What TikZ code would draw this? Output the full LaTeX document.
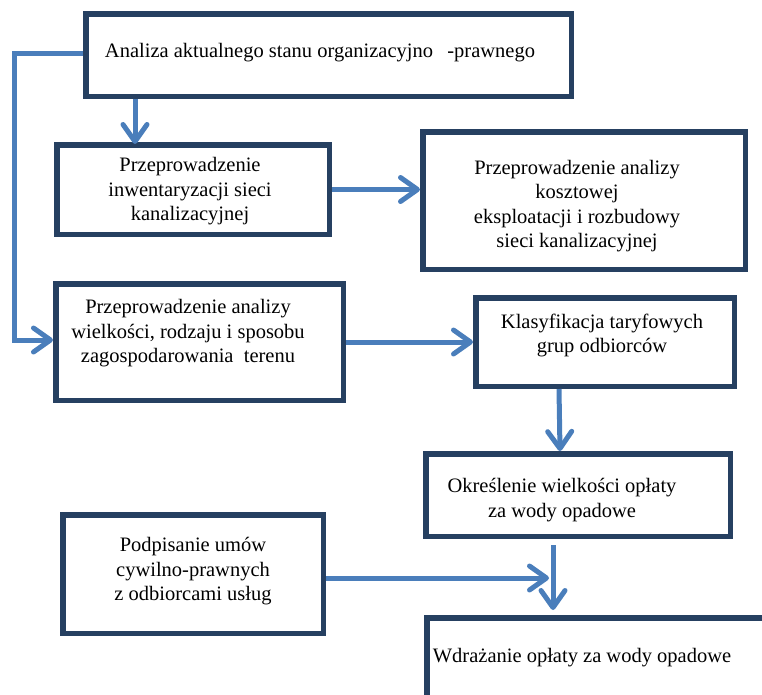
\documentclass[tikz,border=0pt]{standalone}
\usepackage{fontspec}
\setmainfont{Liberation Serif}
\usetikzlibrary{arrows.meta,calc}
\definecolor{boxc}{RGB}{38,64,97}
\definecolor{arrc}{RGB}{74,126,187}
\begin{document}
\begin{tikzpicture}[x=1pt,y=-1pt,
  box/.style={draw=boxc, line width=5.5pt, fill=white, inner sep=0pt},
  txt/.style={font=\fontsize{20.5}{24.5}\selectfont, align=center, inner sep=0pt, text=black},
  arr/.style={draw=arrc, line width=5pt, -{Straight Barb[length=17pt,width=24pt,round]}}]
\useasboundingbox (0,0) rectangle (762,694);
\clip (0,0) rectangle (762,694);
% boxes
\node[box, minimum width=485.5pt, minimum height=82.5pt] (b1) at (328.5,55) {};
\node[box, minimum width=272.5pt, minimum height=89.5pt] (b2) at (193,189.5) {};
\node[box, minimum width=322.5pt, minimum height=137.5pt] (b4) at (584,200.5) {};
\node[box, minimum width=287.5pt, minimum height=116.5pt] (b3) at (199.5,342) {};
\node[box, minimum width=258.5pt, minimum height=88.5pt] (b5) at (605,342) {};
\node[box, minimum width=304.5pt, minimum height=82.5pt] (b6) at (578,495) {};
\node[box, minimum width=260.5pt, minimum height=118.5pt] (b7) at (193,574) {};
\node[box, minimum width=360.5pt, minimum height=99.5pt] (b8) at (607,667.5) {};
% texts
\node[txt, anchor=base] (t1) at (320,57) {Analiza aktualnego stanu organizacyjno\hspace{0.7em}-prawnego};
\node[txt] (t2) at (190,191.5) {Przeprowadzenie\\inwentaryzacji sieci\\kanalizacyjnej};
\node[txt] (t4) at (577,206) {Przeprowadzenie analizy\\kosztowej\\eksploatacji i rozbudowy\\sieci kanalizacyjnej};
\node[txt] (t3) at (188,333.5) {Przeprowadzenie analizy\\wielkości, rodzaju i sposobu\\zagospodarowania\hspace{0.5em}terenu};
\node[txt] (t5) at (602,335.5) {Klasyfikacja taryfowych\\grup odbiorców};
\node[txt] (t6) at (562,500) {Określenie wielkości opłaty\\za wody opadowe};
\node[txt] (t7) at (193,571.5) {Podpisanie umów\\cywilno-prawnych\\z odbiorcami usług};
\node[txt, anchor=base] (t8) at (582,662) {Wdrażanie opłaty za wody opadowe};
% connector coordinates
\coordinate (c1) at (14,53);
\coordinate (c2) at (14,340);
\coordinate (j) at (549,578);
\coordinate (v1) at (553,545);
% connectors
\draw[arr] (b1.west |- c1) -- (c1) -- (c2) -- (b3.west |- c2);
\draw[arr, shorten >=-2pt] ($(b1.south)+(-193.5,0)$) -- ($(b2.north)+(-58,0)$);
\draw[arr] (b2.east) -- (b2.east -| b4.west);
\draw[arr] (b3.east) -- (b5.west);
\draw[arr] ($(b5.south)+(-46,0)$) -- ($(b6.north)+(-18,0)$);
\draw[arr] (b7.east |- j) -- (j);
\draw[arr] (v1) -- ($(b8.north -| v1)+(0,-5)$);
\end{tikzpicture}
\end{document}
